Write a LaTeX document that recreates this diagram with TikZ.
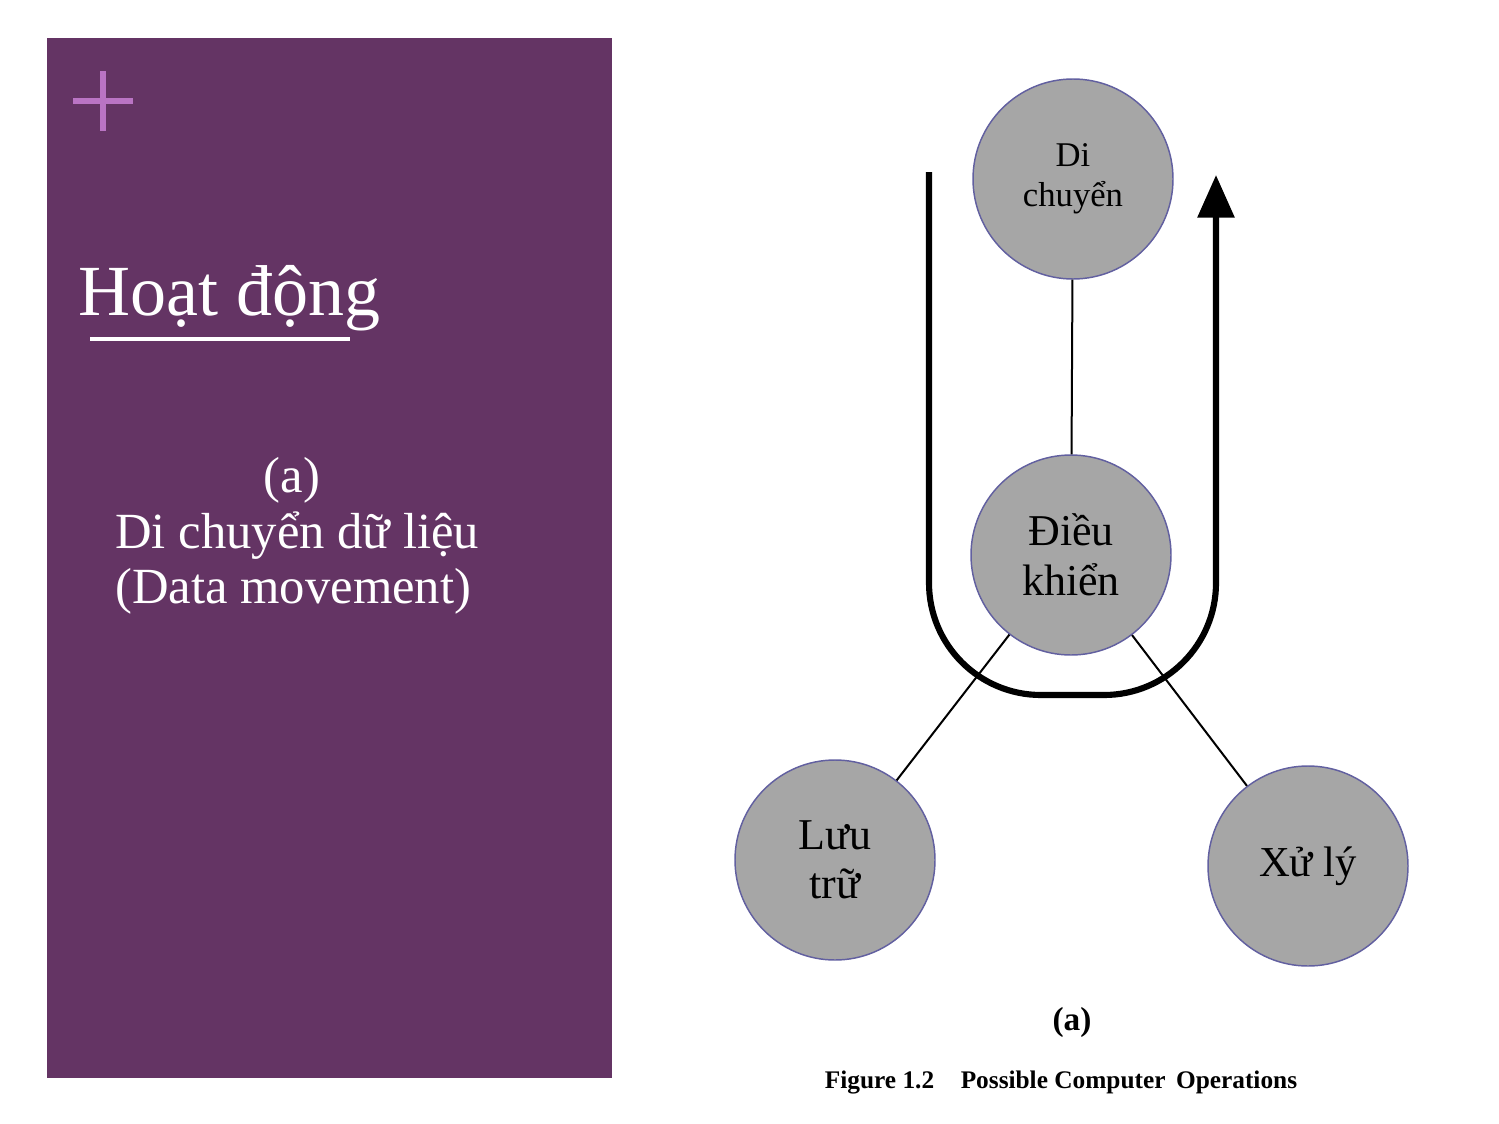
\documentclass[tikz,border=0pt]{standalone}
\usepackage{fontspec}
\setmainfont{Liberation Serif}
\usetikzlibrary{arrows.meta}
\definecolor{panel}{RGB}{100,52,100}
\definecolor{plusc}{RGB}{186,116,196}
\definecolor{nodefill}{RGB}{166,166,166}
\definecolor{nodeborder}{RGB}{98,96,160}
\tikzset{
  opnode/.style={circle, fill=nodefill, draw=nodeborder, line width=1.1pt, minimum size=150pt, inner sep=0pt, align=center, text=black},
  link/.style={line width=1.5pt, black},
  flow/.style={line width=4.6pt, black, rounded corners=84pt, -{Triangle[length=32pt,width=27pt]}},
  paneltext/.style={text=white, anchor=base west, inner sep=0pt}
}
\begin{document}
\begin{tikzpicture}[x=0.75pt,y=-0.75pt]
\useasboundingbox (0,0) rectangle (1499,1124);
\fill[white] (0,0) rectangle (1499,1124);
% left panel
\fill[panel] (47,38) rectangle (612,1078);
\draw[plusc, line width=4pt] (73,101) -- (133,101) (103,71) -- (103,131);
\node[paneltext, font=\fontsize{54}{60}\selectfont] (title) at (78,315) {Hoạt động};
\draw[white, line width=3pt] (90,339) -- (350,339);
\node[paneltext, anchor=base, font=\fontsize{38}{44}\selectfont] (sub1) at (292,492) {(a)};
\node[paneltext, font=\fontsize{38}{44}\selectfont] (sub2) at (115,548) {Di chuyển dữ liệu};
\node[paneltext, font=\fontsize{38}{44}\selectfont] (sub3) at (115,603) {(Data movement)};
% flow arrow
\coordinate (ustart) at (929,172);
\coordinate (uend) at (1216,175);
\draw[flow] (ustart) -- (929,695) -- (1216,695) -- (uend);
% nodes
\node[opnode, font=\fontsize{26}{30}\selectfont] (move) at (1073,179) {Di\\chuyển};
\node[opnode, font=\fontsize{33}{37.5}\selectfont] (ctrl) at (1071,555) {Điều\\khiển};
\node[opnode, font=\fontsize{33}{37}\selectfont] (store) at (835,860) {Lưu\\trữ};
\node[opnode, font=\fontsize{32}{36}\selectfont] (proc) at (1308,866) {Xử lý};
\draw[link] (move) -- (ctrl);
\draw[link] (ctrl) -- (store);
\draw[link] (ctrl) -- (proc);
% captions
\node[font=\bfseries\fontsize{25}{30}\selectfont, inner sep=0pt] (cap) at (1072,1022) {(a)};
\node[font=\bfseries\fontsize{19}{23}\selectfont, inner sep=0pt] (fig) at (1061,1082) {Figure 1.2\hspace{0.8em} Possible Computer\, Operations};
\end{tikzpicture}
\end{document}
